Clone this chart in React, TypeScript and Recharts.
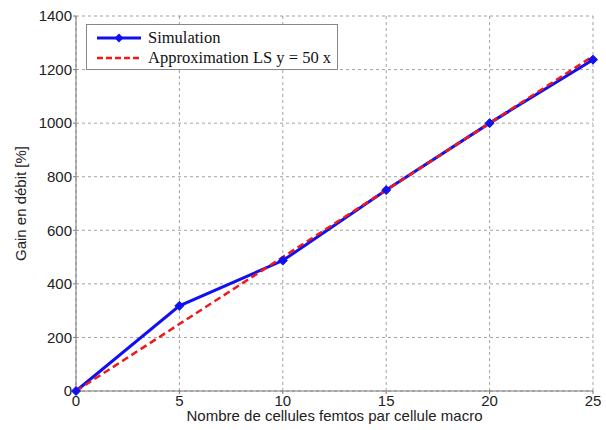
import React from 'react'
import { LineChart, Line, XAxis, YAxis, CartesianGrid } from 'recharts'

// nombre de cellules femtos par cellule macro
const femtos = [0, 5, 10, 15, 20, 25]
// gain simulé en débit [%]
const simulation = [0, 318, 487, 750, 1000, 1237]
// approximation moindres carrés y = 50 x
const approximation = [0, 250, 500, 750, 1000, 1250]

const xTicks = [0, 5, 10, 15, 20, 25]
const yTicks = [0, 200, 400, 600, 800, 1000, 1200, 1400]

const data = femtos.map((x, i) => ({
  x,
  sim: simulation[i],
  approx: approximation[i],
}))

const BLUE = '#1010f0'
const RED = '#f01818'
const SANS = '"Liberation Sans", Arial, sans-serif'

// marqueur en losange
const Diamond = (props: any) => {
  const { cx, cy } = props
  if (cx == null || cy == null) return null
  const r = 4.5
  return (
    <polygon
      points={`${cx},${cy - r} ${cx + r},${cy} ${cx},${cy + r} ${cx - r},${cy}`}
      fill={BLUE}
      stroke={BLUE}
    />
  )
}

// légende encadrée, posée sur le coin haut gauche du graphe
const LegendBox = () => (
  <div
    style={{
      position: 'absolute',
      left: 86,
      top: 24,
      width: 252,
      height: 46,
      border: '1px solid #888',
      background: '#fff',
      fontFamily: '"Liberation Serif", serif',
      fontSize: 16.5,
      color: '#111',
      boxSizing: 'border-box',
      padding: '3px 0 0 8px',
      whiteSpace: 'nowrap',
    }}
  >
    <div style={{ display: 'flex', alignItems: 'center', height: 20 }}>
      <svg width={48} height={12}>
        <line x1={2} y1={6} x2={46} y2={6} stroke={BLUE} strokeWidth={3} />
        <polygon points="24,1.5 28.5,6 24,10.5 19.5,6" fill={BLUE} />
      </svg>
      <span style={{ marginLeft: 5 }}>Simulation</span>
    </div>
    <div style={{ display: 'flex', alignItems: 'center', height: 20 }}>
      <svg width={48} height={12}>
        <line x1={2} y1={6} x2={46} y2={6} stroke={RED} strokeWidth={2.5} strokeDasharray="6 3" />
      </svg>
      <span style={{ marginLeft: 5 }}>Approximation LS y = 50 x</span>
    </div>
  </div>
)

const tickStyle = { fill: '#222', fontSize: 15, fontFamily: SANS }
const labelStyle = { fill: '#222', fontSize: 15, fontFamily: SANS, textAnchor: 'middle' }

export default function App() {
  return (
    <div style={{ position: 'absolute', left: 0, top: 0, width: 606, height: 430, background: '#fff' }}>
      <LineChart
        width={606}
        height={430}
        data={data}
        margin={{ top: 16, right: 13, bottom: 0, left: 0 }}
      >
        <CartesianGrid stroke="#8a8a8a" strokeDasharray="3 3" strokeWidth={0.8} />
        <XAxis
          dataKey="x"
          type="number"
          domain={[0, 25]}
          ticks={xTicks}
          height={39}
          tick={tickStyle}
          tickSize={3}
          tickMargin={1}
          stroke="#777"
          label={{
            value: 'Nombre de cellules femtos par cellule macro',
            position: 'insideBottom',
            offset: 9,
            style: labelStyle,
          }}
        />
        <YAxis
          type="number"
          domain={[0, 1400]}
          ticks={yTicks}
          width={76}
          tick={tickStyle}
          tickSize={3}
          tickMargin={1}
          stroke="#777"
          label={{
            value: 'Gain en débit [%]',
            angle: -90,
            position: 'insideLeft',
            offset: 21,
            style: labelStyle,
          }}
        />
        <Line
          dataKey="sim"
          stroke={BLUE}
          strokeWidth={3}
          dot={<Diamond />}
          isAnimationActive={false}
        />
        <Line
          dataKey="approx"
          stroke={RED}
          strokeWidth={2.5}
          strokeDasharray="7 4"
          dot={false}
          isAnimationActive={false}
        />
      </LineChart>
      <LegendBox />
    </div>
  )
}
